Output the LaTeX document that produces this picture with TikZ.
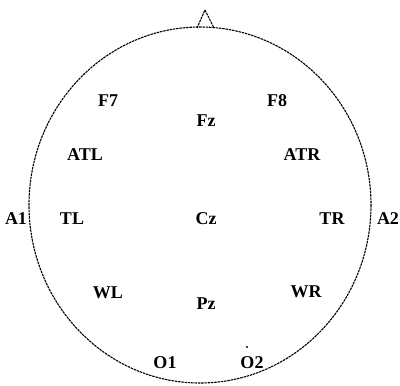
\documentclass[tikz,border=0pt]{standalone}
\usepackage{fontspec}
\setmainfont{Liberation Serif}
\begin{document}
\begin{tikzpicture}[x=1pt,y=-1pt,
  head/.style={line width=1.1pt, dash pattern=on 2.5pt off 0.8pt},
  lbl/.style={font=\fontsize{18}{19}\selectfont\bfseries, inner sep=0pt}]
\useasboundingbox (0,0) rectangle (400,386);
\draw[head] (200,205) ellipse [x radius=171, y radius=178];
\coordinate (nl) at (197,28);
\coordinate (nt) at (205,10);
\coordinate (nr) at (214,28);
\draw[head] (nl) -- (nt) -- (nr);
\node[lbl] (F7) at (108,101) {F7};
\node[lbl] (F8) at (277,101) {F8};
\node[lbl] (Fz) at (206,121) {Fz};
\node[lbl] (ATL) at (85,155) {ATL};
\node[lbl] (ATR) at (302,155) {ATR};
\node[lbl] (A1) at (16,219) {A1};
\node[lbl] (TL) at (72,219) {TL};
\node[lbl] (Cz) at (206,219) {Cz};
\node[lbl] (TR) at (332,219) {TR};
\node[lbl] (A2) at (388,219) {A2};
\node[lbl] (WL) at (108,293) {WL};
\node[lbl] (Pz) at (206,304) {Pz};
\node[lbl] (WR) at (306,292) {WR};
\node[lbl] (O1) at (165,363) {O1};
\node[lbl] (O2) at (252,363) {O2};
\fill (247,347) circle (1.2pt);
\end{tikzpicture}
\end{document}
